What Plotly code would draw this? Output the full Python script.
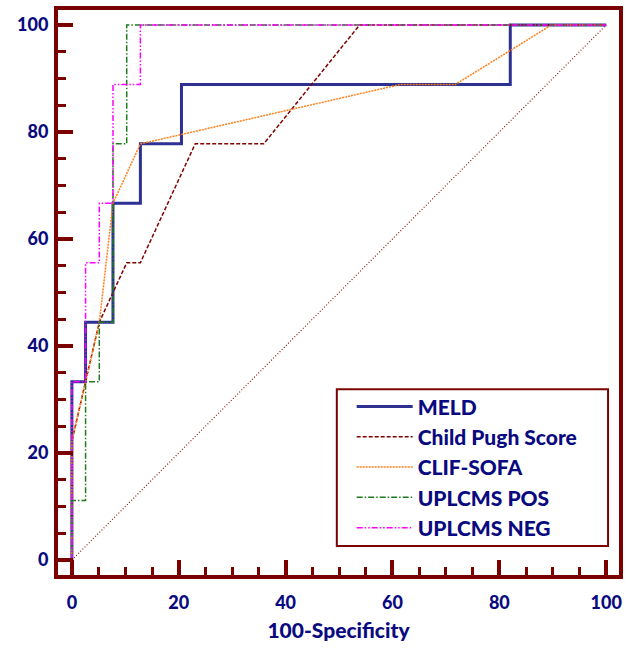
import plotly.graph_objects as go

# ROC curves: 100-Specificity (x) vs Sensitivity (y)
meld_x = [0, 0, 2.56, 2.56, 7.69, 7.69, 12.82, 12.82, 20.51, 20.51, 82.05, 82.05, 100]
meld_y = [0, 33.33, 33.33, 44.44, 44.44, 66.67, 66.67, 77.78, 77.78, 88.89, 88.89, 100, 100]

child_x = [0, 0, 2.56, 5.13, 10.26, 12.82, 23.08, 35.90, 53.85, 100]
child_y = [0, 22.22, 33.33, 44.44, 55.56, 55.56, 77.78, 77.78, 100, 100]

clif_x = [0, 0, 2.56, 5.13, 7.69, 12.82, 61.54, 71.79, 89.74, 100]
clif_y = [0, 22.22, 33.33, 44.44, 66.67, 77.78, 88.89, 88.89, 100, 100]

pos_x = [0, 0, 2.56, 2.56, 5.13, 5.13, 7.69, 7.69, 10.26, 10.26, 100]
pos_y = [0, 11.11, 11.11, 33.33, 33.33, 44.44, 44.44, 77.78, 77.78, 100, 100]

neg_x = [0, 0, 2.56, 2.56, 5.13, 5.13, 7.69, 7.69, 12.82, 12.82, 100]
neg_y = [0, 33.33, 33.33, 55.56, 55.56, 66.67, 66.67, 88.89, 88.89, 100, 100]

chance_x = [0, 100]
chance_y = [0, 100]

tick_vals = [0, 20, 40, 60, 80, 100]

MAROON = "#7B0000"
NAVY = "#0A0A80"
FONT = "Lato"
WEIGHT = 900

fig = go.Figure()

# chance diagonal
fig.add_trace(go.Scatter(x=chance_x, y=chance_y, mode="lines", showlegend=False,
                         line=dict(color="#8B1A1A", width=1.2, dash="1px,2px"),
                         hoverinfo="skip"))

series = [
    ("MELD", meld_x, meld_y, dict(color="#2E3192", width=3)),
    ("Child Pugh Score", child_x, child_y, dict(color="#800000", width=1.5, dash="4px,2px")),
    ("CLIF-SOFA", clif_x, clif_y, dict(color="#FF7F1A", width=1.5, dash="2px,1px")),
    ("UPLCMS POS", pos_x, pos_y, dict(color="#1E7B1E", width=1.5, dash="6px,2px,1.5px,2px")),
    ("UPLCMS NEG", neg_x, neg_y, dict(color="#FF00FF", width=1.5, dash="6px,2px,1.5px,2px,1.5px,2px")),
]
for name, xs, ys, ln in series:
    fig.add_trace(go.Scatter(x=xs, y=ys, mode="lines", name=name, line=ln))

axis_common = dict(
    showgrid=False, zeroline=False,
    showline=True, linecolor=MAROON, linewidth=4, mirror=True,
    ticks="inside", ticklen=15, tickwidth=4, tickcolor=MAROON,
    tickvals=tick_vals,
    tickfont=dict(family=FONT, size=18, color=NAVY, weight=WEIGHT),
    minor=dict(ticks="inside", ticklen=8, tickwidth=2.5, tickcolor=MAROON, dtick=5, tick0=0),
)

fig.update_xaxes(range=[-2.6, 102.4], **axis_common, ticklabelstandoff=8,
                 title=dict(text="100-Specificity",
                            font=dict(family=FONT, size=21, color=NAVY, weight=WEIGHT),
                            standoff=13))
fig.update_yaxes(range=[-2.8, 102.8], **axis_common, ticklabelstandoff=2)

# legend frame
fig.add_shape(type="rect", xref="paper", yref="paper",
              x0=0.497, x1=0.9805, y0=0.0512, y1=0.3286,
              line=dict(color=MAROON, width=2), fillcolor="white", layer="below")

fig.update_layout(
    width=629, height=648,
    margin=dict(l=58, r=6, t=9, b=73),
    paper_bgcolor="white", plot_bgcolor="rgba(0,0,0,0)",
    showlegend=True,
    legend=dict(x=0.5235, y=0.334, xanchor="left", yanchor="top",
                bgcolor="rgba(0,0,0,0)", borderwidth=0,
                font=dict(family=FONT, size=21, color=NAVY, weight=WEIGHT),
                tracegroupgap=0, itemwidth=56),
)

fig.write_html("out.html")
